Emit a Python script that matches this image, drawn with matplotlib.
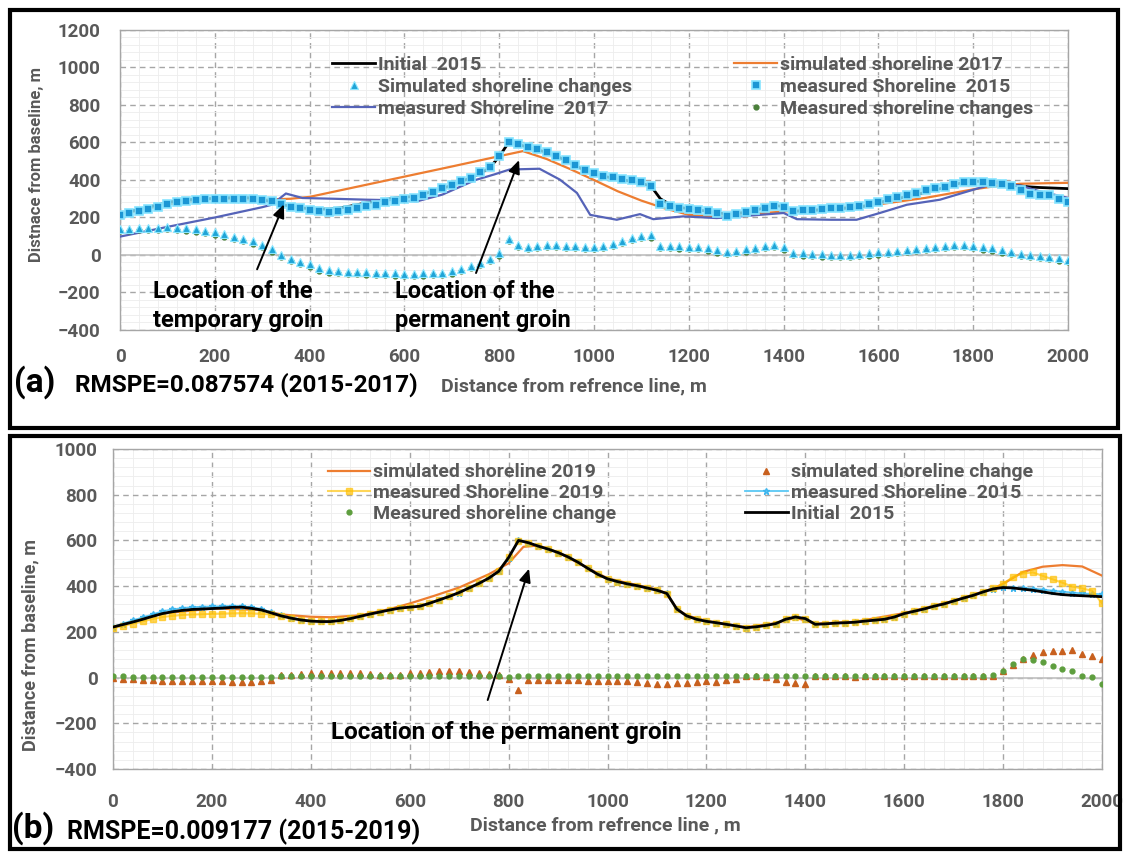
import numpy as np
import matplotlib.pyplot as plt
from matplotlib.patches import Rectangle
from matplotlib.ticker import MultipleLocator

plt.rcParams['font.family'] = ['Roboto', 'DejaVu Sans']
plt.rcParams['font.weight'] = 'bold'

GRAY = '#595959'

# stations along the reference line, every 20 m
x = np.arange(0, 2001, 20)

# ---- shared: initial shoreline 2015 ----
initial_2015 = [221, 232, 243, 255, 268, 280, 288, 294, 298, 300,
                302, 304, 307, 308, 303, 296, 283, 270, 260, 252,
                247, 245, 245, 250, 258, 268, 278, 287, 296, 304,
                308, 312, 325, 340, 355, 372, 392, 412, 435, 465,
                525, 600, 590, 575, 562, 547, 528, 505, 478, 452,
                432, 420, 410, 402, 392, 382, 368, 300, 270, 255,
                246, 240, 233, 226, 218, 222, 228, 236, 255, 265,
                258, 233, 235, 238, 240, 242, 247, 251, 255, 265,
                280, 290, 300, 312, 322, 335, 348, 360, 375, 388,
                394, 392, 387, 382, 375, 368, 363, 360, 358, 356,
                354]

# ---- panel (a) 2015-2017 ----
meas_2015_a = [214, 222, 232, 245, 258, 270, 282, 290, 295, 298,
               300, 300, 300, 300, 298, 295, 288, 272, 258, 248,
               240, 232, 228, 232, 240, 250, 260, 268, 280, 290,
               300, 306, 320, 335, 355, 372, 392, 412, 440, 468,
               530, 600, 590, 578, 565, 548, 528, 508, 480, 455,
               435, 420, 415, 405, 398, 390, 368, 270, 262, 252,
               245, 238, 232, 222, 210, 218, 228, 238, 248, 262,
               258, 232, 238, 242, 244, 248, 252, 256, 262, 270,
               284, 296, 308, 320, 332, 344, 355, 365, 378, 388,
               390, 388, 385, 378, 370, 345, 325, 322, 318, 300,
               282]

sim_change_2017 = [138, 140, 142, 144, 146, 148, 146, 142, 136, 128,
                   120, 110, 98, 86, 72, 55, 30, 0, -20, -35,
                   -50, -72, -82, -86, -89, -91, -93, -94, -96, -98,
                   -100, -100, -98, -96, -94, -88, -75, -60, -42, -20,
                   10, 85, 55, 45, 50, 55, 55, 50, 48, 45,
                   45, 50, 60, 75, 90, 100, 105, 48, 48, 46,
                   45, 42, 35, 25, 18, 22, 30, 38, 48, 55,
                   40, 10, 8, 5, 3, 2, 2, 2, 4, 8,
                   14, 18, 22, 28, 34, 38, 44, 50, 55, 55,
                   48, 40, 35, 25, 15, 5, 0, -5, -10, -18,
                   -28]

meas_change_2017 = [126, 128, 131, 133, 135, 136, 134, 130, 124, 116,
                    108, 98, 86, 74, 60, 43, 18, -12, -32, -46,
                    -62, -84, -94, -98, -101, -103, -105, -106, -108, -110,
                    -112, -112, -110, -108, -106, -100, -87, -72, -54, -32,
                    -3, 72, 42, 33, 38, 43, 43, 38, 36, 33,
                    33, 38, 48, 63, 78, 88, 92, 36, 36, 34,
                    33, 30, 23, 13, 6, 10, 18, 26, 36, 43,
                    28, -2, -4, -7, -9, -10, -10, -10, -8, -4,
                    2, 6, 10, 16, 22, 26, 32, 38, 43, 43,
                    36, 28, 23, 13, 3, -7, -12, -17, -22, -30,
                    -40]

sim17_x = [0, 100, 200, 300, 360, 400, 500, 600, 700, 800, 850, 900, 950, 1000,
           1050, 1100, 1150, 1200, 1260, 1300, 1400, 1500, 1600, 1700, 1800, 1850, 1900, 2000]
sim_2017 = [214, 270, 300, 295, 300, 310, 364, 418, 472, 527, 554, 512, 458, 400,
            340, 290, 248, 214, 205, 212, 232, 250, 270, 305, 350, 368, 380, 385]

meas17_x = [0, 100, 200, 300, 320, 350, 385, 450, 520, 580, 626, 680, 750, 790, 822, 885,
            928, 964, 992, 1048, 1097, 1125, 1188, 1259, 1308, 1400, 1428, 1500, 1554,
            1603, 1660, 1730, 1800, 1850, 1900, 1940, 2000]
meas_2017 = [98, 150, 200, 255, 268, 328, 304, 300, 295, 292, 286, 322, 400, 430, 456, 460,
             402, 331, 214, 188, 218, 191, 206, 197, 206, 224, 191, 188, 188,
             224, 268, 295, 348, 384, 370, 340, 305]

# ---- panel (b) 2015-2019 ----
meas_2015_b = [222, 236, 250, 263, 276, 290, 298, 304, 308, 310,
               311, 312, 313, 312, 308, 300, 286, 272, 262, 254,
               248, 246, 246, 251, 259, 268, 278, 287, 296, 304,
               308, 312, 325, 340, 355, 372, 392, 412, 435, 465,
               525, 600, 590, 575, 562, 547, 528, 505, 478, 452,
               432, 420, 410, 402, 392, 382, 368, 300, 270, 255,
               246, 240, 233, 226, 218, 222, 228, 236, 255, 265,
               258, 233, 235, 238, 240, 242, 247, 251, 255, 265,
               280, 290, 300, 312, 322, 335, 348, 360, 375, 388,
               395, 394, 392, 389, 385, 380, 376, 372, 368, 366,
               365]

meas_2019 = [216, 226, 236, 246, 256, 265, 270, 274, 276, 277,
             279, 280, 281, 282, 281, 279, 276, 268, 260, 253,
             248, 246, 246, 251, 259, 268, 278, 287, 296, 304,
             309, 313, 326, 341, 356, 373, 393, 413, 436, 466,
             526, 598, 589, 575, 562, 547, 528, 505, 478, 452,
             432, 420, 410, 402, 392, 382, 366, 298, 270, 255,
             246, 240, 233, 226, 218, 222, 228, 236, 255, 265,
             258, 233, 235, 238, 240, 242, 247, 251, 255, 265,
             280, 290, 300, 312, 322, 335, 348, 360, 375, 390,
             410, 440, 455, 460, 445, 430, 415, 398, 390, 380,
             325]

sim_change_2019 = [0, -5, -8, -10, -12, -14, -15, -16, -16, -17,
                   -17, -17, -18, -20, -18, -17, -12, 10, 12, 15,
                   18, 20, 22, 22, 20, 18, 15, 12, 10, 12,
                   18, 22, 25, 28, 30, 28, 26, 22, 15, 10,
                   -5, -55, -10, -12, -12, -12, -12, -12, -13, -14,
                   -15, -15, -15, -18, -22, -28, -30, -25, -22, -18,
                   -15, -18, -12, -5, 5, 5, 3, -5, -20, -25,
                   -28, 5, 5, 5, 5, 4, 5, 5, 5, 5,
                   5, 5, 5, 5, 5, 5, 5, 5, 5, 8,
                   30, 55, 80, 100, 110, 115, 118, 120, 105, 95,
                   82]

meas_change_2019 = [5, 5, 4, 4, 3, 3, 3, 2, 2, 2,
                    2, 2, 2, 2, 2, 3, 4, 6, 6, 6,
                    6, 7, 7, 7, 6, 6, 6, 6, 6, 6,
                    8, 8, 9, 9, 9, 8, 8, 8, 6, 6,
                    4, 6, 5, 5, 5, 5, 5, 5, 5, 5,
                    5, 5, 5, 5, 5, 5, 5, 5, 5, 5,
                    5, 5, 5, 5, 5, 5, 5, 5, 5, 5,
                    5, 5, 5, 5, 5, 5, 5, 5, 5, 5,
                    5, 5, 5, 5, 5, 5, 5, 6, 8, 12,
                    30, 58, 80, 76, 70, 50, 38, 30, 5, 2,
                    -28]

sim19_x = [0, 100, 200, 300, 340, 400, 440, 500, 560, 600, 650, 700, 760, 800, 830, 860,
           900, 1000, 1100, 1120, 1140, 1160, 1200, 1280, 1340, 1380, 1420, 1500, 1600,
           1700, 1780, 1800, 1840, 1880, 1920, 1960, 2000]
sim_2019 = [221, 280, 302, 296, 276, 266, 264, 272, 300, 324, 358, 394, 452, 500, 572, 578,
            548, 434, 385, 368, 302, 272, 248, 220, 238, 262, 236, 244, 282,
            336, 390, 410, 462, 485, 492, 486, 446]


def style_axes(ax, ymin, ymax, ypad, xpad):
    ax.set_xlim(0, 2000)
    ax.set_ylim(ymin, ymax)
    ax.xaxis.set_major_locator(MultipleLocator(200))
    ax.yaxis.set_major_locator(MultipleLocator(200))
    ax.xaxis.set_minor_locator(MultipleLocator(40))
    ax.yaxis.set_minor_locator(MultipleLocator(40))
    ax.grid(which='minor', color='#EDEDED', lw=0.6, ls='-')
    ax.grid(which='major', color='#A6A6A6', lw=1.0, ls=(0, (4, 3)))
    ax.set_axisbelow(True)
    ax.axhline(0, color='#BFBFBF', lw=1.2, zorder=1)
    for s in ax.spines.values():
        s.set_color('#A6A6A6')
        s.set_linewidth(1.0)
    ax.tick_params(axis='both', which='both', length=0, labelsize=13.5, labelcolor=GRAY)
    ax.tick_params(axis='y', pad=ypad)
    ax.tick_params(axis='x', pad=xpad)


fig = plt.figure(figsize=(11.3, 8.52), dpi=100)

# ==================== (a) ====================
ax1 = fig.add_axes([120 / 1130, 1 - 330 / 852, 948 / 1130, 300 / 852])
style_axes(ax1, -400, 1200, 14, 13)

h_sim17, = ax1.plot(sim17_x, sim_2017, color='#ED7D31', lw=1.6, zorder=3)
h_init_a, = ax1.plot(x, initial_2015, color='black', lw=2, zorder=3)
h_m17, = ax1.plot(meas17_x, meas_2017, color='#5563B8', lw=1.6, zorder=4)
h_m15a, = ax1.plot(x, meas_2015_a, ls='none', marker='s', ms=6, color='#1B96D4',
                   mec='#86E4FF', mew=1.2, zorder=5)
h_mch17, = ax1.plot(x, meas_change_2017, ls='none', marker='o', ms=3.5, color='#4A7F3A',
                    mec='#4A7F3A', zorder=5)
h_sch17, = ax1.plot(x, sim_change_2017, ls='none', marker='^', ms=5.5, color='#1FA3D6',
                    mec='#8AE6FF', mew=0.8, zorder=6)

leg_kw = dict(loc='upper left', frameon=False, borderpad=0, borderaxespad=0,
              handlelength=2.2, handletextpad=0.15,
              labelcolor=GRAY, prop={'size': 14, 'weight': 'bold'}, numpoints=1)
leg = ax1.legend([h_init_a, h_sch17, h_m17],
                 ['Initial  2015', 'Simulated shoreline changes', 'measured Shoreline  2017'],
                 bbox_to_anchor=(0.224, 0.915), labelspacing=0.22, **leg_kw)
ax1.add_artist(leg)
ax1.legend([h_sim17, h_m15a, h_mch17],
           ['simulated shoreline 2017', 'measured Shoreline  2015', 'Measured shoreline changes'],
           bbox_to_anchor=(0.648, 0.915), labelspacing=0.22, **leg_kw)

arrow = dict(arrowstyle='-|>,head_length=0.8,head_width=0.35', color='black', lw=1.4)
ax1.annotate('', xy=(348, 284), xytext=(287, -90), arrowprops=arrow, zorder=7)
ax1.annotate('', xy=(844, 520), xytext=(749, -110), arrowprops=arrow, zorder=7)
ax1.text(70, -272, 'Location of the\ntemporary groin', fontsize=17, color='black',
         va='center', ha='left', linespacing=1.3, zorder=8)
ax1.text(580, -272, 'Location of the\npermanent groin', fontsize=17, color='black',
         va='center', ha='left', linespacing=1.3, zorder=8)

fig.text(37 / 1130, 1 - 165 / 852, 'Distnace from baseline, m', rotation=90,
         fontsize=12, color=GRAY, ha='center', va='center')
fig.text(14 / 1130, 1 - 382 / 852, '(a)', fontsize=24, color='black', va='center')
fig.text(75 / 1130, 1 - 385 / 852, 'RMSPE=0.087574 (2015-2017)', fontsize=17.5,
         color='black', va='center')
fig.text(441 / 1130, 1 - 386 / 852, 'Distance from refrence line, m', fontsize=14,
         color=GRAY, va='center')

# ==================== (b) ====================
ax2 = fig.add_axes([113 / 1130, 1 - 769 / 852, 989 / 1130, 320 / 852])
style_axes(ax2, -400, 1000, 11, 17)

h_sim19, = ax2.plot(sim19_x, sim_2019, color='#ED7D31', lw=1.6, zorder=3)
h_m15b, = ax2.plot(x, meas_2015_b, color='#5BC8F5', lw=1.3, marker='*', ms=5,
                   mec='#3FB6EE', zorder=3)
h_m19, = ax2.plot(x, meas_2019, color='#FFC000', lw=1.5, marker='s', ms=4.5,
                  alpha=0.65, zorder=4)
h_sch19, = ax2.plot(x, sim_change_2019, ls='none', marker='^', ms=5, color='#C8601E', zorder=5)
h_mch19, = ax2.plot(x, meas_change_2019, ls='none', marker='o', ms=3.5, color='#5E9E3E', zorder=5)
h_init_b, = ax2.plot(x, initial_2015, color='black', lw=2, zorder=6)

leg = ax2.legend([h_sim19, h_m19, h_mch19],
                 ['simulated shoreline 2019', 'measured Shoreline  2019', 'Measured shoreline change'],
                 bbox_to_anchor=(0.217, 0.955), labelspacing=0.14, **leg_kw)
ax2.add_artist(leg)
ax2.legend([h_sch19, h_m15b, h_init_b],
           ['simulated shoreline change', 'measured Shoreline  2015', 'Initial  2015'],
           bbox_to_anchor=(0.639, 0.955), labelspacing=0.14, **leg_kw)

ax2.annotate('', xy=(843, 488), xytext=(756, -110), arrowprops=arrow, zorder=7)
ax2.text(440, -240, 'Location of the permanent groin', fontsize=17.5, color='black',
         va='center', ha='left', zorder=8)

fig.text(30 / 1130, 1 - 645 / 852, 'Distance from baseline, m', rotation=90,
         fontsize=13, color=GRAY, ha='center', va='center')
fig.text(12 / 1130, 1 - 828 / 852, '(b)', fontsize=24, color='black', va='center')
fig.text(67 / 1130, 1 - 832 / 852, 'RMSPE=0.009177 (2015-2019)', fontsize=18,
         color='black', va='center')
fig.text(470 / 1130, 1 - 825 / 852, 'Distance from refrence line , m', fontsize=14,
         color=GRAY, va='center')

# black frames round each panel
fig.add_artist(Rectangle((10 / 1130, 1 - 428 / 852), 1108 / 1130, 418 / 852,
                         transform=fig.transFigure, fill=False, lw=3, ec='black'))
fig.add_artist(Rectangle((10 / 1130, 1 - 849 / 852), 1110 / 1130, 413 / 852,
                         transform=fig.transFigure, fill=False, lw=3, ec='black'))

fig.savefig('out.png', dpi=100)
